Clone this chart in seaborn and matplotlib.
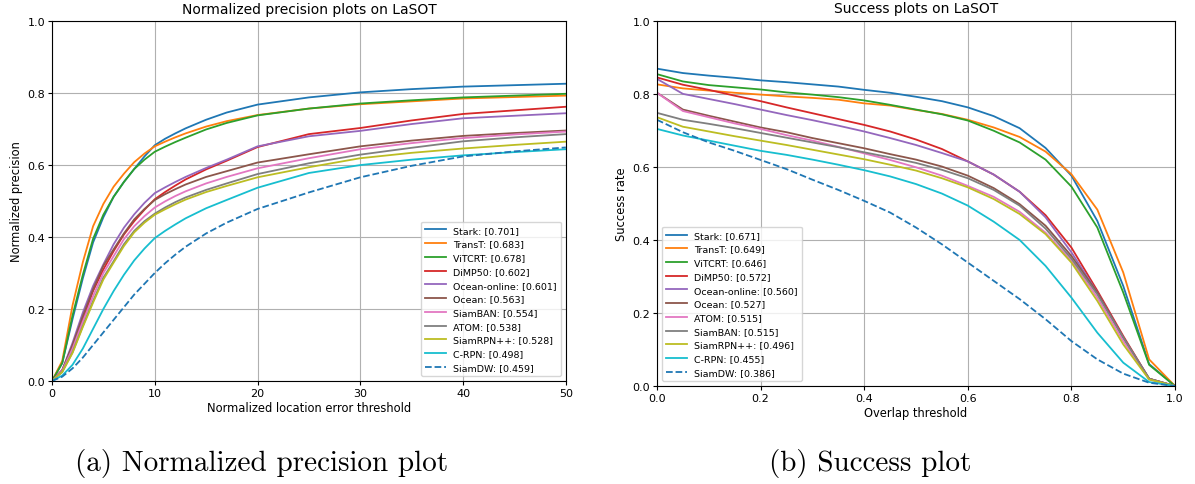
import seaborn as sns
import matplotlib.pyplot as plt
import pandas as pd

# normalized precision (left panel)
prec_x = [0, 1, 2, 3, 4, 5, 6, 7, 8, 9, 10, 11, 12, 13, 15, 17, 20, 25, 30, 35, 40, 45, 50]
prec_names = ['Stark: [0.701]', 'TransT: [0.683]', 'ViTCRT: [0.678]', 'DiMP50: [0.602]',
              'Ocean-online: [0.601]', 'Ocean: [0.563]', 'SiamBAN: [0.554]', 'ATOM: [0.538]',
              'SiamRPN++: [0.528]', 'C-RPN: [0.498]', 'SiamDW: [0.459]']
prec_stark = [0, 0.05, 0.172, 0.285, 0.385, 0.455, 0.512, 0.553, 0.589, 0.624, 0.655, 0.673, 0.688, 0.702, 0.726, 0.746, 0.768, 0.788, 0.802, 0.811, 0.818, 0.822, 0.826]
prec_transt = [0, 0.056, 0.21, 0.33, 0.43, 0.492, 0.54, 0.576, 0.608, 0.632, 0.652, 0.665, 0.677, 0.688, 0.707, 0.722, 0.739, 0.757, 0.769, 0.777, 0.785, 0.789, 0.793]
prec_vitcrt = [0, 0.05, 0.182, 0.295, 0.395, 0.462, 0.512, 0.553, 0.589, 0.615, 0.637, 0.651, 0.664, 0.676, 0.699, 0.717, 0.738, 0.757, 0.771, 0.780, 0.788, 0.793, 0.798]
prec_dimp = [0, 0.03, 0.095, 0.17, 0.25, 0.31, 0.361, 0.407, 0.444, 0.476, 0.505, 0.525, 0.543, 0.56, 0.588, 0.612, 0.65, 0.686, 0.703, 0.724, 0.742, 0.752, 0.762]
prec_ocean_on = [0, 0.03, 0.106, 0.19, 0.264, 0.324, 0.38, 0.426, 0.463, 0.495, 0.522, 0.538, 0.553, 0.567, 0.592, 0.615, 0.652, 0.68, 0.695, 0.714, 0.73, 0.737, 0.744]
prec_ocean = [0, 0.03, 0.1, 0.18, 0.255, 0.32, 0.366, 0.41, 0.449, 0.478, 0.503, 0.519, 0.533, 0.546, 0.567, 0.583, 0.607, 0.63, 0.652, 0.668, 0.681, 0.689, 0.696]
prec_siamban = [0, 0.028, 0.09, 0.165, 0.236, 0.30, 0.347, 0.394, 0.43, 0.458, 0.482, 0.499, 0.514, 0.527, 0.549, 0.567, 0.591, 0.619, 0.644, 0.661, 0.675, 0.685, 0.693]
prec_atom = [0, 0.025, 0.08, 0.153, 0.222, 0.287, 0.333, 0.38, 0.417, 0.444, 0.465, 0.482, 0.497, 0.51, 0.531, 0.549, 0.575, 0.605, 0.629, 0.648, 0.666, 0.677, 0.686]
prec_siamrpn = [0, 0.025, 0.078, 0.15, 0.218, 0.282, 0.329, 0.375, 0.413, 0.44, 0.462, 0.477, 0.491, 0.504, 0.525, 0.542, 0.566, 0.594, 0.619, 0.634, 0.646, 0.656, 0.665]
prec_crpn = [0, 0.015, 0.045, 0.09, 0.145, 0.20, 0.25, 0.295, 0.335, 0.368, 0.397, 0.417, 0.435, 0.452, 0.48, 0.503, 0.537, 0.578, 0.60, 0.615, 0.627, 0.636, 0.644]
prec_siamdw = [0, 0.012, 0.035, 0.065, 0.10, 0.135, 0.17, 0.205, 0.24, 0.27, 0.30, 0.327, 0.351, 0.373, 0.41, 0.44, 0.478, 0.524, 0.566, 0.598, 0.624, 0.638, 0.649]

# success rate (right panel)
succ_x = [0, 0.05, 0.1, 0.15, 0.2, 0.25, 0.3, 0.35, 0.4, 0.45, 0.5, 0.55, 0.6, 0.65, 0.7, 0.75, 0.8, 0.85, 0.9, 0.95, 1.0]
succ_names = ['Stark: [0.671]', 'TransT: [0.649]', 'ViTCRT: [0.646]', 'DiMP50: [0.572]',
              'Ocean-online: [0.560]', 'Ocean: [0.527]', 'ATOM: [0.515]', 'SiamBAN: [0.515]',
              'SiamRPN++: [0.496]', 'C-RPN: [0.455]', 'SiamDW: [0.386]']
succ_stark = [0.869, 0.857, 0.850, 0.844, 0.837, 0.832, 0.826, 0.820, 0.811, 0.803, 0.792, 0.780, 0.763, 0.739, 0.706, 0.652, 0.576, 0.452, 0.274, 0.06, 0]
succ_transt = [0.826, 0.815, 0.809, 0.803, 0.798, 0.793, 0.789, 0.784, 0.774, 0.768, 0.756, 0.745, 0.729, 0.708, 0.682, 0.642, 0.58, 0.483, 0.311, 0.073, 0]
succ_vitcrt = [0.854, 0.834, 0.824, 0.818, 0.812, 0.804, 0.798, 0.791, 0.782, 0.77, 0.757, 0.744, 0.727, 0.699, 0.667, 0.62, 0.546, 0.434, 0.256, 0.058, 0]
succ_dimp = [0.845, 0.825, 0.811, 0.795, 0.78, 0.763, 0.747, 0.731, 0.715, 0.697, 0.675, 0.649, 0.615, 0.579, 0.532, 0.468, 0.379, 0.261, 0.137, 0.02, 0]
succ_ocean_on = [0.841, 0.80, 0.786, 0.772, 0.757, 0.742, 0.728, 0.713, 0.697, 0.679, 0.66, 0.638, 0.615, 0.579, 0.532, 0.462, 0.366, 0.256, 0.133, 0.02, 0]
succ_ocean = [0.803, 0.757, 0.74, 0.724, 0.708, 0.695, 0.679, 0.665, 0.651, 0.635, 0.62, 0.601, 0.576, 0.542, 0.498, 0.439, 0.356, 0.256, 0.133, 0.02, 0]
succ_atom = [0.803, 0.753, 0.736, 0.719, 0.704, 0.687, 0.672, 0.655, 0.637, 0.619, 0.599, 0.576, 0.548, 0.518, 0.477, 0.42, 0.343, 0.242, 0.123, 0.018, 0]
succ_siamban = [0.748, 0.729, 0.718, 0.706, 0.693, 0.68, 0.667, 0.654, 0.64, 0.626, 0.611, 0.592, 0.569, 0.537, 0.494, 0.431, 0.349, 0.251, 0.133, 0.02, 0]
succ_siamrpn = [0.736, 0.71, 0.697, 0.684, 0.672, 0.66, 0.647, 0.634, 0.621, 0.606, 0.59, 0.569, 0.544, 0.512, 0.471, 0.416, 0.338, 0.233, 0.114, 0.018, 0]
succ_crpn = [0.704, 0.686, 0.672, 0.658, 0.644, 0.633, 0.62, 0.606, 0.591, 0.574, 0.553, 0.527, 0.494, 0.45, 0.40, 0.329, 0.242, 0.146, 0.064, 0.011, 0]
succ_siamdw = [0.729, 0.695, 0.667, 0.644, 0.619, 0.594, 0.565, 0.537, 0.507, 0.475, 0.434, 0.388, 0.338, 0.288, 0.238, 0.183, 0.123, 0.073, 0.034, 0.009, 0]

prec_vals = [prec_stark, prec_transt, prec_vitcrt, prec_dimp, prec_ocean_on, prec_ocean,
             prec_siamban, prec_atom, prec_siamrpn, prec_crpn, prec_siamdw]
succ_vals = [succ_stark, succ_transt, succ_vitcrt, succ_dimp, succ_ocean_on, succ_ocean,
             succ_atom, succ_siamban, succ_siamrpn, succ_crpn, succ_siamdw]

colors = sns.color_palette('tab10', 10) + [sns.color_palette('tab10')[0]]
styles = ['-'] * 10 + ['--']


def draw(ax, xs, names, vals, title, xlabel, ylabel, xmax, loc):
    for i, (name, ys) in enumerate(zip(names, vals)):
        df = pd.DataFrame({'x': xs, 'y': ys})
        sns.lineplot(data=df, x='x', y='y', ax=ax, color=colors[i], linestyle=styles[i],
                     linewidth=1.3, label=name)
    ax.set_xlim(0, xmax)
    ax.set_ylim(0, 1)
    ax.set_yticks([0, 0.2, 0.4, 0.6, 0.8, 1.0])
    ax.grid(True, color='#b0b0b0', linewidth=0.8)
    ax.set_title(title, fontsize=10)
    ax.set_xlabel(xlabel, fontsize=8.3, labelpad=2)
    ax.set_ylabel(ylabel, fontsize=8.3, labelpad=3)
    ax.tick_params(labelsize=8, length=3, pad=2)
    ax.legend(loc=loc, fontsize=6.8, handlelength=2.2, borderpad=0.45, labelspacing=0.5)


fig = plt.figure(figsize=(11.95, 4.85), dpi=100)
ax1 = fig.add_axes([0.0435, 0.2124, 0.430, 0.742])
ax2 = fig.add_axes([0.5498, 0.202, 0.4335, 0.753])

draw(ax1, prec_x, prec_names, prec_vals, 'Normalized precision plots on LaSOT',
     'Normalized location error threshold', 'Normalized precision', 50, 'lower right')
ax1.set_xticks([0, 10, 20, 30, 40, 50])
draw(ax2, succ_x, succ_names, succ_vals, 'Success plots on LaSOT',
     'Overlap threshold', 'Success rate', 1.0, 'lower left')
ax2.set_xticks([0, 0.2, 0.4, 0.6, 0.8, 1.0])

fig.text(262 / 1195, 1 - 463 / 485, '(a) Normalized precision plot', ha='center', va='center',
         fontsize=21, family='cmr10')
fig.text(870 / 1195, 1 - 463 / 485, '(b) Success plot', ha='center', va='center',
         fontsize=21, family='cmr10')

plt.savefig('out.png', dpi=100)
